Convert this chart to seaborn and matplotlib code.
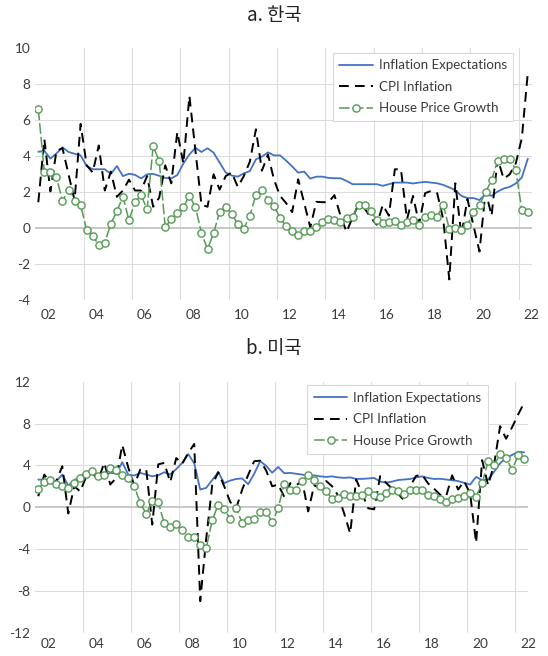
import numpy as np
import pandas as pd
import matplotlib
matplotlib.use("Agg")
import matplotlib.pyplot as plt
import seaborn as sns

# Quarterly observations, 82 quarters
quarter = np.arange(82)
year_labels = ["02", "04", "06", "08", "10", "12", "14", "16", "18", "20", "22"]

# ---- Korea ----
kr_expect = [4.25, 4.3, 3.87, 4.16, 4.5, 4.24, 4.14, 4.05, 3.46, 3.28,
             3.28, 3.28, 3.02, 3.46, 2.9, 3.03, 2.97, 2.77, 3.0, 3.02,
             2.92, 2.8, 2.77, 2.96, 3.6, 4.1, 4.47, 4.24, 4.45, 4.2,
             3.65, 3.1, 2.93, 2.87, 3.05, 3.18, 3.83, 3.98, 4.22, 4.05,
             4.05, 3.76, 3.44, 3.09, 3.15, 2.76, 2.87, 2.87, 2.8, 2.78,
             2.78, 2.63, 2.45, 2.45, 2.45, 2.45, 2.45, 2.36, 2.45, 2.54,
             2.54, 2.54, 2.49, 2.54, 2.58, 2.54, 2.5, 2.41, 2.27, 2.12,
             1.8, 1.68, 1.68, 1.57, 1.9, 1.8, 2.04, 2.21, 2.3, 2.49,
             2.82, 3.87]
kr_cpi = [1.45, 4.95, 2.05, 4.3, 4.45, 3.0, 1.55, 5.8, 3.5, 3.1,
          4.6, 2.1, 3.15, 1.75, 2.1, 2.7, 2.1, 2.1, 2.9, 1.2,
          1.7, 3.5, 2.5, 5.35, 3.6, 7.35, 4.3, 1.3, 1.2, 3.0,
          2.15, 2.9, 3.1, 2.3, 2.9, 3.7, 5.5, 3.2, 4.1, 2.7,
          1.8, 1.4, 0.9, 2.72, 1.4, 0.05, 1.47, 1.45, 1.45, 1.84,
          0.7, -0.2, 0.6, 1.34, 1.1, 0.6, 0.2, 1.3, 0.7, 3.28,
          3.28, 0.5, 1.8, 0.25, 1.95, 2.08, 1.95, 0.5, -2.84, 2.5,
          -0.37, 1.62, 0.15, -1.29, 2.08, 0.7, 3.87, 2.75, 3.0, 3.6,
          5.0, 8.65]
kr_house = [6.6, 3.15, 3.1, 2.85, 1.5, 2.15, 1.5, 1.3, -0.1, -0.4,
            -0.95, -0.8, 0.25, 0.95, 1.75, 0.45, 1.45, 1.85, 1.05, 4.55,
            3.75, 0.05, 0.52, 0.85, 1.17, 1.8, 1.18, -0.27, -1.15, -0.27,
            0.91, 1.2, 0.77, 0.25, -0.02, 0.7, 1.85, 2.14, 1.59, 1.25,
            0.57, 0.11, -0.13, -0.37, -0.17, -0.17, 0.09, 0.33, 0.52, 0.46,
            0.37, 0.57, 0.64, 1.31, 1.31, 0.98, 0.46, 0.29, 0.33, 0.42,
            0.18, 0.37, 0.46, 0.18, 0.61, 0.74, 0.64, 1.31, -0.04, 0.0,
            -0.07, 0.18, 0.92, 1.31, 1.99, 2.69, 3.74, 3.87, 3.87, 3.24,
            1.01, 0.88]

# ---- United States ----
us_expect = [2.64, 2.64, 2.58, 2.48, 3.12, 2.07, 2.58, 2.96, 3.3, 3.3,
             2.96, 3.03, 3.28, 3.22, 4.3, 3.12, 3.03, 3.28, 3.12, 2.96,
             3.05, 3.35, 3.12, 3.65, 4.24, 5.08, 4.2, 1.69, 1.85, 2.6,
             3.35, 2.3, 2.55, 2.7, 2.75, 2.2, 3.2, 4.4, 3.95, 3.3,
             3.85, 3.25, 3.28, 3.2, 3.12, 2.97, 3.05, 2.95, 2.9, 2.95,
             2.85, 2.81, 2.85, 2.71, 2.71, 2.75, 2.8, 2.45, 2.35, 2.45,
             2.6, 2.65, 2.7, 2.85, 2.95, 2.8, 2.7, 2.72, 2.65, 2.58,
             2.5, 2.33, 2.17, 2.9, 2.58, 2.65, 3.4, 4.2, 4.7, 5.0,
             5.3, 5.25]
us_cpi = [1.05, 3.12, 2.32, 2.5, 3.92, -0.6, 2.0, 1.5, 2.96, 3.28,
          2.64, 4.24, 2.17, 2.8, 5.95, 3.8, 2.1, 3.6, 3.6, -1.66,
          4.1, 4.24, 2.4, 4.7, 4.15, 5.19, 6.05, -8.98, -3.0, 2.1,
          3.35, 2.0, 0.5, -0.1, 1.69, 3.1, 4.4, 4.45, 3.5, 2.0,
          2.17, 1.0, 2.3, 2.1, 2.5, -0.4, 2.1, 1.8, 2.5, 2.0,
          1.1, -0.6, -2.5, 2.65, 1.3, -0.1, -0.2, 2.97, 2.33, 1.76,
          1.3, 0.62, 2.0, 3.0, 3.1, 2.27, 1.76, 1.2, 1.05, 3.05,
          1.69, 2.49, 1.3, -3.4, 4.5, 2.1, 4.1, 7.75, 6.55, 7.65,
          8.86, 9.97]
us_house = [1.75, 2.4, 2.6, 2.26, 2.07, 1.85, 2.32, 2.8, 3.18, 3.44,
            3.03, 3.12, 3.76, 3.6, 3.06, 2.8, 2.0, 0.41, -0.64, 0.57,
            0.48, -1.53, -1.9, -1.62, -2.17, -2.84, -2.84, -3.65, -3.89, -1.25,
            0.25, -0.19, -1.12, -0.06, -1.53, -1.18, -1.11, -0.43, -0.43, -1.43,
            -0.1, 2.25, 1.6, 1.6, 2.49, 3.12, 2.62, 2.0, 1.55, 0.77,
            0.9, 1.25, 1.05, 1.05, 1.21, 1.53, 1.21, 0.96, 1.37, 1.63,
            1.55, 1.31, 1.63, 1.69, 1.63, 1.21, 1.05, 0.8, 0.5, 0.8,
            0.9, 1.12, 1.4, 1.02, 2.28, 4.4, 4.05, 5.05, 4.75, 3.54,
            4.95, 4.6]

BLUE = "#4472C4"
GREEN = "#559B55"
TEXT = "#3A3A3A"
GRID = "#DCDCDC"
ZERO = "#C4C4C4"

sns.set_theme(style="white")
plt.rcParams["font.family"] = ["Lato", "DejaVu Sans"]
plt.rcParams["axes.unicode_minus"] = False

fig = plt.figure(figsize=(5.48, 6.56), dpi=100)
ax_kr = fig.add_axes([0.0644, 0.5422, 0.9060, 0.3842])
ax_us = fig.add_axes([0.0644, 0.0355, 0.8991, 0.3826])


def draw_panel(ax, expect, cpi, house, yticks, legend_anchor, xpad):
    df = pd.DataFrame({"quarter": quarter, "expect": expect,
                       "cpi": cpi, "house": house})
    for v in yticks[1:-1]:
        if v != 0:
            ax.axhline(v, color=GRID, lw=0.8, zorder=0)
    for k in range(10):
        ax.axvline(7.5 + 8 * k, color=GRID, lw=0.8, zorder=0)
    ax.axhline(0, color=ZERO, lw=1.3, zorder=0.5)

    sns.lineplot(data=df, x="quarter", y="expect", ax=ax, color=BLUE,
                 lw=1.3, label="Inflation Expectations")
    sns.lineplot(data=df, x="quarter", y="cpi", ax=ax, color="black",
                 lw=1.4, linestyle=(0, (5, 3.2)), label="CPI Inflation")
    sns.lineplot(data=df, x="quarter", y="house", ax=ax, color=GREEN,
                 lw=1.1, linestyle=(0, (7, 2)), marker="o", markersize=5.2,
                 markerfacecolor="white", markeredgecolor=GREEN,
                 markeredgewidth=1.0, label="House Price Growth")

    ax.set_xlim(-0.5, 81.5)
    ax.set_ylim(yticks[0], yticks[-1])
    ax.set_yticks(yticks)
    ax.set_yticklabels([str(v) for v in yticks])
    ax.set_xticks([1.65 + 8 * k for k in range(len(year_labels))])
    ax.set_xticklabels(year_labels)
    ax.set_xlabel("")
    ax.set_ylabel("")
    for s in ax.spines.values():
        s.set_visible(False)
    ax.tick_params(axis="both", length=0, labelsize=9.8, colors=TEXT)
    ax.tick_params(axis="y", pad=3.5)
    ax.tick_params(axis="x", pad=xpad)

    leg = ax.legend(loc="upper right", bbox_to_anchor=legend_anchor,
                    borderaxespad=0, frameon=True, fancybox=False,
                    framealpha=1, edgecolor="#D9D9D9", fontsize=9.6,
                    handlelength=2.5, handletextpad=0.45, labelspacing=0.72,
                    borderpad=0.5, numpoints=1)
    leg.get_frame().set_linewidth(0.8)
    for t in leg.get_texts():
        t.set_color(TEXT)


draw_panel(ax_kr, kr_expect, kr_cpi, kr_house,
           [-4, -2, 0, 2, 4, 6, 8, 10], (0.963, 0.983), 6.5)
draw_panel(ax_us, us_expect, us_cpi, us_house,
           [-12, -8, -4, 0, 4, 8, 12], (0.919, 0.987), 3.8)

title_font = ["Noto Sans CJK KR", "DejaVu Sans"]
fig.text(0.5, 0.977, "a. 한국", ha="center", va="center", fontsize=13.5,
         family=title_font, color="#222222")
fig.text(0.5, 0.4695, "b. 미국", ha="center", va="center", fontsize=13.5,
         family=title_font, color="#222222")

fig.savefig("out.png", dpi=100, facecolor="white")
